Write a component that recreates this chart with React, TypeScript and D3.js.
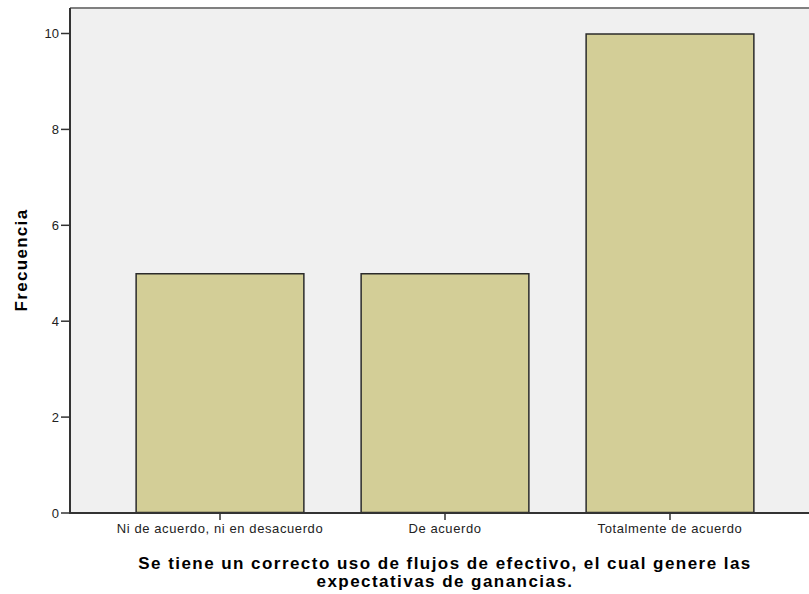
import * as d3 from "d3";

const categories = [
  "Ni de acuerdo, ni en desacuerdo",
  "De acuerdo",
  "Totalmente de acuerdo",
];
const frequencies = [5, 5, 10];
const yTicks = [0, 2, 4, 6, 8, 10];
const axisTitle = [
  "Se tiene un correcto uso de flujos de efectivo, el cual genere las",
  "expectativas de ganancias.",
];

const W = 809;
const H = 594;
const FONT = "'Liberation Sans', Arial, sans-serif";

const App = () => {
  const left = 70;
  const right = 820; // plot runs past the right edge, cropped like the source
  const top = 8;
  const bottom = 513;

  const x = d3
    .scaleBand<string>()
    .domain(categories)
    .range([left, right])
    .paddingInner(0.25)
    .paddingOuter(0.2917);

  const y = d3.scaleLinear().domain([0, 10]).range([bottom, 33.5]);

  return (
    <svg
      width={W}
      height={H}
      style={{ position: "absolute", left: 0, top: 0, background: "#fff" }}
      fontFamily={FONT}
    >
      {/* plot background */}
      <rect x={left} y={top} width={right - left} height={bottom - top} fill="#f0f0f0" />
      <line x1={left} x2={right} y1={top} y2={top} stroke="#808080" strokeWidth={2} />

      {/* bars */}
      {categories.map((c, i) => (
        <rect
          key={c}
          x={(x(c) ?? 0) + 0.5}
          y={y(frequencies[i]) + 0.5}
          width={x.bandwidth() - 1}
          height={y(0) - y(frequencies[i]) - 1}
          fill="#d3ce97"
          stroke="#2b2b2b"
          strokeWidth={1.5}
        />
      ))}

      {/* y axis */}
      <line x1={left} x2={left} y1={top} y2={bottom} stroke="#333" strokeWidth={2} />
      {yTicks.map((t) => (
        <g key={t}>
          <line x1={left - 9} x2={left} y1={y(t)} y2={y(t)} stroke="#333" strokeWidth={1.5} />
          <text
            x={left - 11}
            y={y(t)}
            dy="0.36em"
            textAnchor="end"
            fontSize={13}
            fill="#222"
          >
            {t}
          </text>
        </g>
      ))}

      {/* x axis */}
      <line x1={left - 1} x2={right} y1={bottom} y2={bottom} stroke="#333" strokeWidth={2} />
      {categories.map((c) => {
        const cx = (x(c) ?? 0) + x.bandwidth() / 2;
        return (
          <g key={c}>
            <line x1={cx} x2={cx} y1={bottom} y2={bottom + 7} stroke="#333" strokeWidth={1.5} />
            <text
              x={cx}
              y={bottom + 20}
              textAnchor="middle"
              fontSize={13}
              letterSpacing={0.6}
              fill="#222"
            >
              {c}
            </text>
          </g>
        );
      })}

      {/* axis titles */}
      <text
        transform={`translate(27,260) rotate(-90)`}
        textAnchor="middle"
        fontSize={17}
        fontWeight="bold"
        letterSpacing={1.3}
      >
        Frecuencia
      </text>
      {axisTitle.map((line, i) => (
        <text
          key={i}
          x={445}
          y={569 + i * 18}
          textAnchor="middle"
          fontSize={17}
          fontWeight="bold"
          letterSpacing={1.45}
        >
          {line}
        </text>
      ))}
    </svg>
  );
};

export default App;
